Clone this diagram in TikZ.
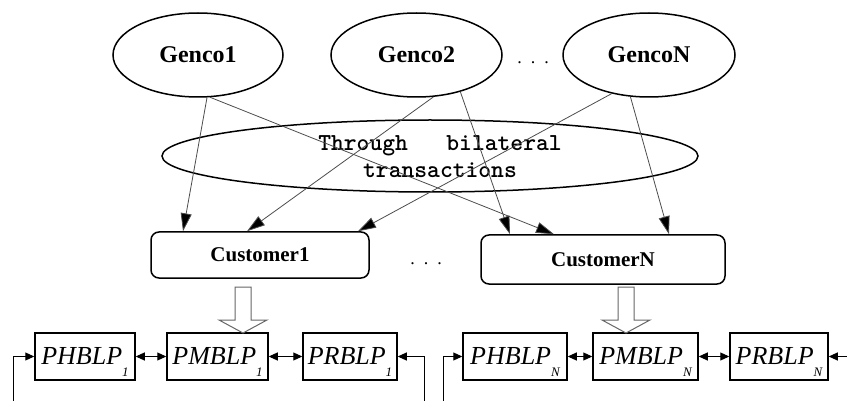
\documentclass[tikz,border=0pt]{standalone}
\usepackage{fontspec}
\setmainfont{Liberation Serif}
\usetikzlibrary{shapes.geometric,arrows.meta,calc}
\newcommand\blpsub[1]{\raisebox{-12pt}[0pt][0pt]{\fontsize{13}{13}\selectfont #1}}

\begin{document}
\begin{tikzpicture}[x=1pt,y=-1pt,
  genco/.style={ellipse,draw,line width=1.5pt,minimum height=84pt,inner sep=0pt,
    font=\fontsize{24}{24}\selectfont\bfseries},
  cust/.style={rectangle,rounded corners=8pt,draw,line width=1.5pt,inner sep=0pt,
    font=\fontsize{21}{21}\selectfont\bfseries},
  blp/.style={rectangle,draw,line width=1.5pt,minimum height=47pt,inner sep=0pt,
    font=\fontsize{26}{26}\selectfont\itshape},
  link/.style={draw=black!70,line width=0.8pt,
    -{Triangle[length=18pt,width=11pt,fill=black]}},
  pair/.style={line width=1pt,
    {Triangle[length=9pt,width=8pt]}-{Triangle[length=9pt,width=8pt]}},
  loopback/.style={line width=1pt,-{Triangle[length=9pt,width=8pt]}},
  hollow/.style={draw=black!60,line width=1pt,fill=white},
  dotsnode/.style={font=\fontsize{18}{18}\selectfont,anchor=base,inner sep=0pt}
]
\useasboundingbox (0,0) rectangle (847,401);

% generating companies
\node[genco,minimum width=170pt] (g1) at (198,55) {Genco1};
\node[genco,minimum width=171pt] (g2) at (416.5,55) {Genco2};
\node[genco,minimum width=172pt] (gN) at (649,55) {GencoN};
\node[dotsnode] (gdots) at (533,64) {.\hspace{9pt}.\hspace{9pt}.};

% bilateral transaction layer
\node[ellipse,draw,line width=1.5pt,minimum width=536pt,minimum height=72pt] (bt) at (430,156) {};
\node[align=center,inner sep=0pt,font=\ttfamily\bfseries\fontsize{24.4}{27}\selectfont] (btx) at (440,157)
  {Through\ \ \ bilateral\\transactions};

% customers
\node[cust,minimum width=218pt,minimum height=46pt] (c1) at (260,255) {Customer1};
\node[cust,minimum width=244pt,minimum height=49pt] (cN) at (603,259.5) {CustomerN};
\node[dotsnode] (cdots) at (426,265) {.\hspace{9pt}.\hspace{9pt}.};

% contracts from each genco to each customer
\draw[link] (g1.-78) -- ($(c1.north)+(-77,0)$);
\draw[link] (g1.-74) -- ($(cN.north)+(-49,0)$);
\draw[link] (g2.-68) -- ($(c1.north)+(-13,0)$);
\draw[link] (g2.-40) -- ($(cN.north)+(-93,0)$);
\draw[link] (gN.-134) -- ($(c1.north)+(98,0)$);
\draw[link] (gN.-114) -- ($(cN.north)+(66,0)$);

% bilevel programming blocks
\node[blp,minimum width=100pt] (ph1) at (85,356.5) {PHBLP\blpsub{1}};
\node[blp,minimum width=101pt] (pm1) at (217.5,356.5) {PMBLP\blpsub{1}};
\node[blp,minimum width=94pt]  (pr1) at (350,356.5) {PRBLP\blpsub{1}};
\node[blp,minimum width=104pt] (phN) at (515,356.5) {PHBLP\blpsub{\textit{N}}};
\node[blp,minimum width=105pt] (pmN) at (645.5,356.5) {PMBLP\blpsub{\textit{N}}};
\node[blp,minimum width=98pt]  (prN) at (779,356.5) {PRBLP\blpsub{\textit{N}}};

\draw[pair] (ph1) -- (pm1);
\draw[pair] (pm1) -- (pr1);
\draw[pair] (phN) -- (pmN);
\draw[pair] (pmN) -- (prN);

% hollow arrows from customers to their models
\coordinate (h1) at (243,333);
\coordinate (h2) at (626,333);
\foreach \h in {h1,h2}
  \draw[hollow] (\h) -- ++(-24,-13) -- ++(16,0) -- ++(0,-33) -- ++(16,0)
    -- ++(0,33) -- ++(16,0) -- cycle;

% feedback lines
\coordinate (fa) at (13,401);
\coordinate (fb) at (424,401);
\coordinate (fc) at (443,401);
\coordinate (fd) at (847,356.5);
\draw[loopback] (fa) |- (ph1.west);
\draw[loopback] (fb) |- (pr1.east);
\draw[loopback] (fc) |- (phN.west);
\draw[loopback] (fd) -- (prN.east);
\end{tikzpicture}
\end{document}
